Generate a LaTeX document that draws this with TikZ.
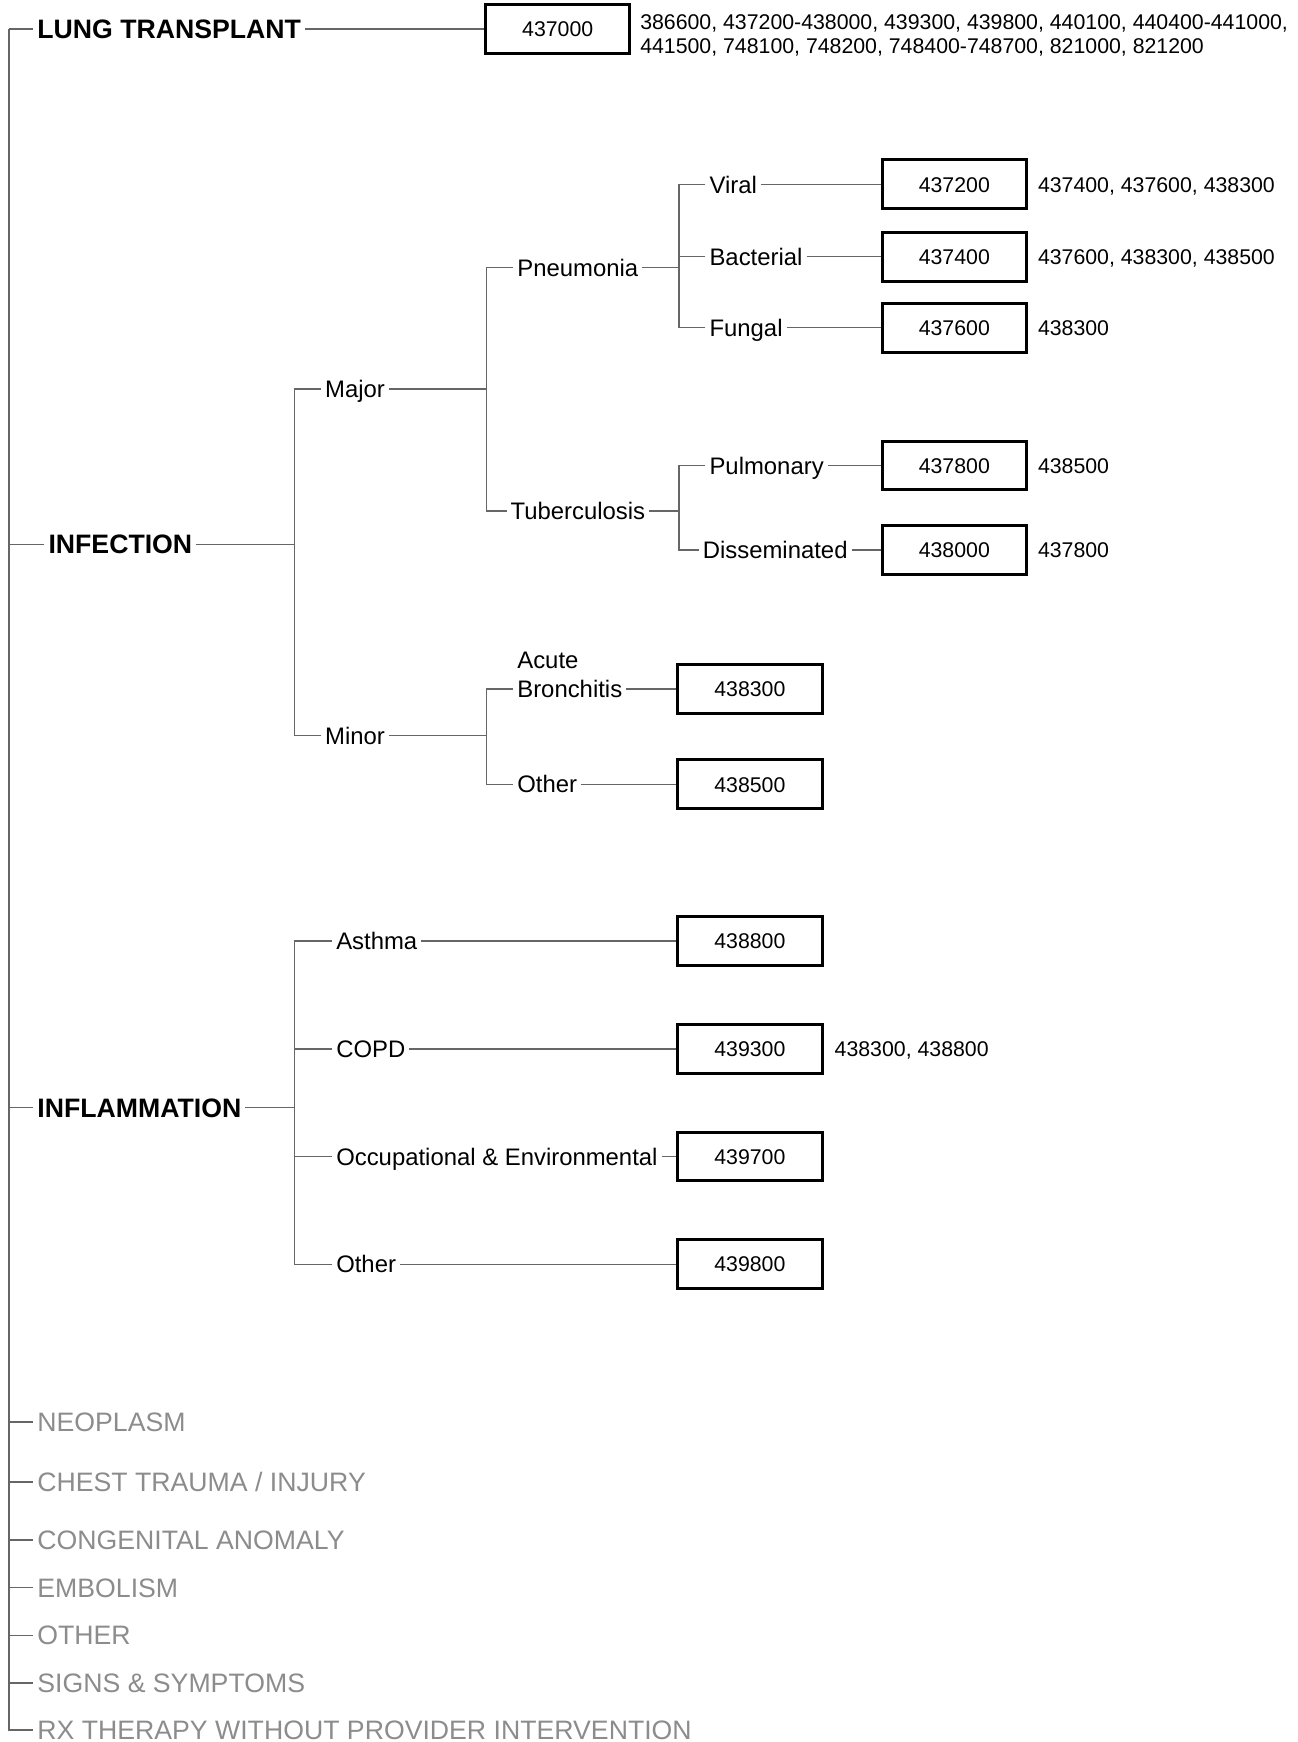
\documentclass[tikz,border=0pt]{standalone}
\usepackage{fontspec}
\setmainfont{Liberation Sans}
\usepackage[dvipsnames]{xcolor}
\definecolor{linegray}{HTML}{666666}
\definecolor{textgray}{HTML}{8C8C8C}

\begin{document}
\begin{tikzpicture}[x=0.6pt,y=-0.6pt,
  edge/.style={draw=linegray,line width=0.8pt},
  top node/.style={anchor=west,inner xsep=2pt,inner ysep=0pt,text height=10.3pt,text depth=0pt,font=\bfseries\fontsize{14.4}{17}\selectfont},
  grey node/.style={anchor=west,inner xsep=2pt,inner ysep=0pt,text height=10.3pt,text depth=0pt,text=textgray,font=\fontsize{14.4}{17}\selectfont},
  sub node/.style={anchor=west,inner xsep=2pt,inner ysep=0pt,text height=9.3pt,text depth=0pt,font=\fontsize{12.9}{15}\selectfont},
  code box/.style={draw,line width=1.6pt,minimum width=78pt,minimum height=26.4pt,inner sep=0pt,text height=8.3pt,text depth=0pt,font=\fontsize{11.5}{13.2}\selectfont},
  note/.style={anchor=west,inner sep=0pt,text height=8.3pt,text depth=0pt,font=\fontsize{11.5}{13.2}\selectfont}]

  \useasboundingbox (0,0) rectangle (1168,1568);

  % main branches
  \coordinate (trunk) at (8,26);
  \node[top node] (lung) at (30,26) {LUNG TRANSPLANT};
  \node[top node] (infect) at (40,490) {INFECTION};
  \node[top node] (inflam) at (30,997) {INFLAMMATION};
  \node[grey node] (neo) at (30,1280) {NEOPLASM};
  \node[grey node] (chest) at (30,1334) {CHEST TRAUMA / INJURY};
  \node[grey node] (cong) at (30,1386) {CONGENITAL ANOMALY};
  \node[grey node] (emb) at (30,1429) {EMBOLISM};
  \node[grey node] (oth) at (30,1472) {OTHER};
  \node[grey node] (signs) at (30,1515) {SIGNS \& SYMPTOMS};
  \node[grey node] (rx) at (30,1557) {RX THERAPY WITHOUT PROVIDER INTERVENTION};

  \node[code box] (b437000) at (502,26) {437000};
  \node[anchor=west,inner sep=0pt,align=left,font=\fontsize{11.5}{13.2}\selectfont] (l437000) at (576,32)
    {386600, 437200-438000, 439300, 439800, 440100, 440400-441000,\\441500, 748100, 748200, 748400-748700, 821000, 821200};

  \foreach \n in {lung,infect,inflam,neo,chest,cong,emb,oth,signs,rx}
    \draw[edge] (trunk) |- (\n.west);
  \draw[edge] (lung.east) -- (b437000.west);

  % infection
  \coordinate (j1) at (265,490);
  \node[sub node] (major) at (289,350) {Major};
  \node[sub node] (minor) at (289,662) {Minor};
  \draw[edge] (infect.east) -- (j1);
  \draw[edge] (j1) |- (major.west);
  \draw[edge] (j1) |- (minor.west);

  \coordinate (j2) at (438,350);
  \node[sub node] (pneu) at (462,241) {Pneumonia};
  \node[sub node] (tb) at (456,460) {Tuberculosis};
  \draw[edge] (major.east) -- (j2);
  \draw[edge] (j2) |- (pneu.west);
  \draw[edge] (j2) |- (tb.west);

  \coordinate (j3) at (611,241);
  \node[sub node] (viral) at (635,166) {Viral};
  \node[sub node] (bact) at (635,231) {Bacterial};
  \node[sub node] (fung) at (635,295) {Fungal};
  \draw[edge] (pneu.east) -- (j3);
  \draw[edge] (j3) |- (viral.west);
  \draw[edge] (j3) |- (bact.west);
  \draw[edge] (j3) |- (fung.west);

  \coordinate (j4) at (611,460);
  \node[sub node] (pulm) at (635,419) {Pulmonary};
  \node[sub node] (diss) at (629,495) {Disseminated};
  \draw[edge] (tb.east) -- (j4);
  \draw[edge] (j4) |- (pulm.west);
  \draw[edge] (j4) |- (diss.west);

  \node[code box] (b437200) at (859,166) {437200};
  \node[code box] (b437400) at (859,231) {437400};
  \node[code box] (b437600) at (859,295) {437600};
  \node[code box] (b437800) at (859,419) {437800};
  \node[code box] (b438000) at (859,495) {438000};
  \node[note] (l437200) at (934,166) {437400, 437600, 438300};
  \node[note] (l437400) at (934,231) {437600, 438300, 438500};
  \node[note] (l437600) at (934,295) {438300};
  \node[note] (l437800) at (934,419) {438500};
  \node[note] (l438000) at (934,495) {437800};
  \draw[edge] (viral.east) -- (b437200.west);
  \draw[edge] (bact.east) -- (b437400.west);
  \draw[edge] (fung.east) -- (b437600.west);
  \draw[edge] (pulm.east) -- (b437800.west);
  \draw[edge] (diss.east) -- (b438000.west);

  \coordinate (j5) at (438,662);
  \node[sub node,label={[anchor=south west,inner sep=0pt,xshift=2pt,yshift=5.7pt,font=\fontsize{12.9}{15}\selectfont]north west:Acute}] (bronch) at (462,620) {Bronchitis};
  \node[sub node] (other1) at (462,706) {Other};
  \draw[edge] (minor.east) -- (j5);
  \draw[edge] (j5) |- (bronch.west);
  \draw[edge] (j5) |- (other1.west);

  \node[code box] (b438300) at (675,620) {438300};
  \node[code box] (b438500) at (675,706) {438500};
  \draw[edge] (bronch.east) -- (b438300.west);
  \draw[edge] (other1.east) -- (b438500.west);

  % inflammation
  \coordinate (j6) at (265,997);
  \node[sub node] (asthma) at (299,847) {Asthma};
  \node[sub node] (copd) at (299,944) {COPD};
  \node[sub node] (occ) at (299,1041) {Occupational \& Environmental};
  \node[sub node] (other2) at (299,1138) {Other};
  \draw[edge] (inflam.east) -- (j6);
  \foreach \n in {asthma,copd,occ,other2}
    \draw[edge] (j6) |- (\n.west);

  \node[code box] (b438800) at (675,847) {438800};
  \node[code box] (b439300) at (675,944) {439300};
  \node[code box] (b439700) at (675,1041) {439700};
  \node[code box] (b439800) at (675,1138) {439800};
  \node[note] (l439300) at (751,944) {438300, 438800};
  \draw[edge] (asthma.east) -- (b438800.west);
  \draw[edge] (copd.east) -- (b439300.west);
  \draw[edge] (occ.east) -- (b439700.west);
  \draw[edge] (other2.east) -- (b439800.west);

\end{tikzpicture}
\end{document}
